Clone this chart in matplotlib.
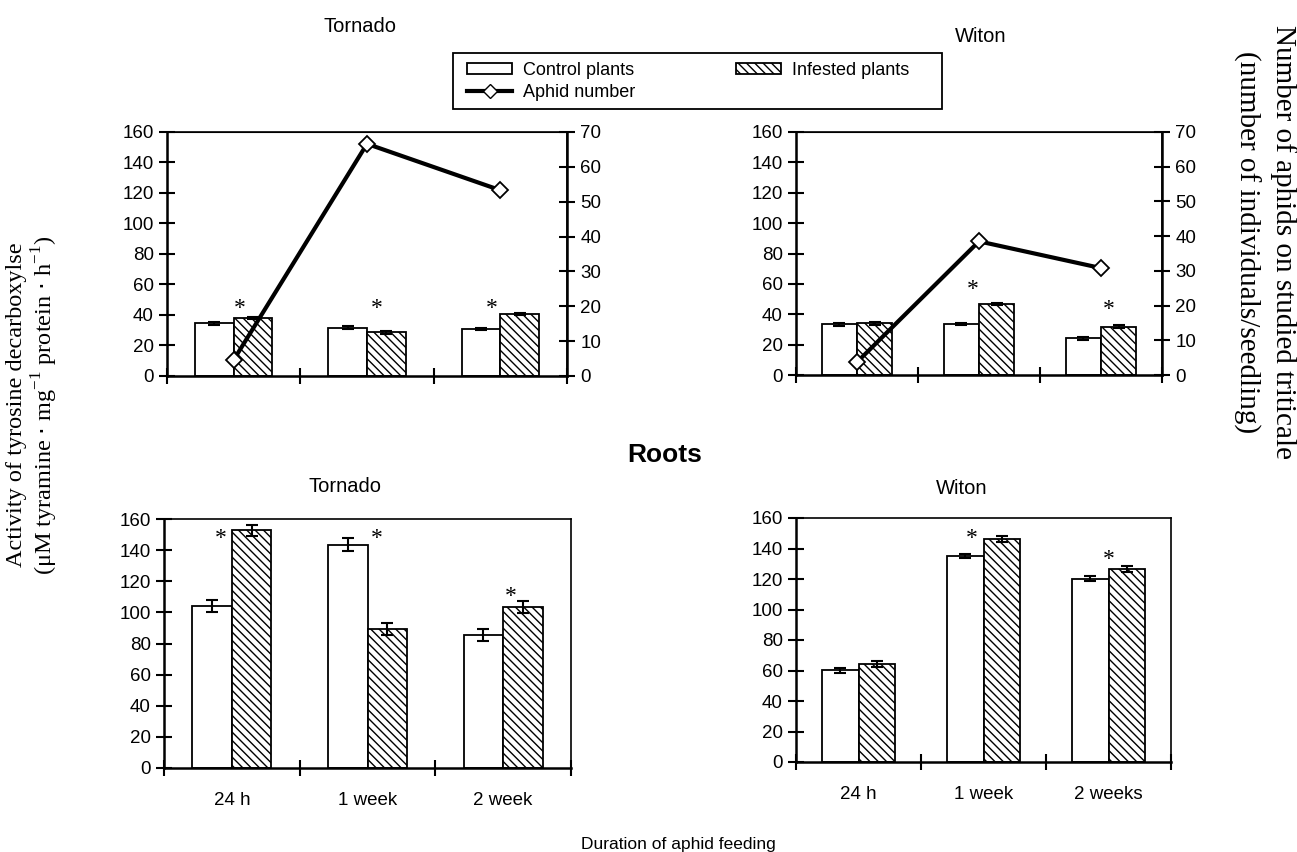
import numpy as np
import matplotlib.pyplot as plt
from matplotlib.patches import Patch, Rectangle
from matplotlib.lines import Line2D

plt.rcParams['font.family'] = ['Liberation Sans', 'DejaVu Sans']

# leaves (top row) and roots (bottom row), groups = duration of feeding
tornado_ctrl = [34.5, 31.7, 30.8]
tornado_inf = [38.2, 28.6, 40.6]
tornado_ctrl_err = [0.8, 0.8, 0.8]
tornado_inf_err = [0.8, 0.8, 0.8]
tornado_aphids = [4.6, 66.6, 53.3]

witon_ctrl = [33.3, 33.5, 24.1]
witon_inf = [34.0, 46.7, 31.8]
witon_ctrl_err = [0.8, 0.8, 0.8]
witon_inf_err = [0.8, 0.8, 0.8]
witon_aphids = [3.7, 38.5, 30.8]

tornado_root_ctrl = [104.2, 143.5, 85.6]
tornado_root_inf = [152.7, 89.2, 103.3]
tornado_root_ctrl_err = [4.0, 4.0, 3.9]
tornado_root_inf_err = [3.6, 3.7, 3.7]

witon_root_ctrl = [60.1, 135.1, 120.2]
witon_root_inf = [64.3, 146.2, 126.3]
witon_root_ctrl_err = [1.7, 1.6, 1.5]
witon_root_inf_err = [1.7, 1.9, 1.9]

labels_tornado = ['24 h', '1 week', '2 week']
labels_witon = ['24 h', '1 week', '2 weeks']

# significance marks: (group, offset, height)
stars_tl = [(0, 0.047, 44.3), (1, 0.072, 44.3), (2, -0.062, 44.3)]
stars_tr = [(1, -0.055, 56.3), (2, 0.062, 43.2)]
stars_bl = [(0, -0.08, 147.6), (1, 0.066, 147.6), (2, 0.054, 110.2)]
stars_br = [(1, -0.09, 146.4), (2, 0.0, 132.7)]

W, H = 1297, 852
fig = plt.figure(figsize=(W / 100, H / 100), dpi=100)


def px_axes(x0, x1, y0, y1):
    return fig.add_axes([x0 / W, 1 - y1 / H, (x1 - x0) / W, (y1 - y0) / H])


def px_text(x, y, s, **kw):
    fig.text(x / W, 1 - y / H, s, ha='center', va='center', **kw)


HATCH = '\\\\\\\\'
bw = 0.29
TICK_FS = 13.5


def bars(ax, ctrl, inf, ctrl_err, inf_err, stars, xlabels=None):
    x = np.arange(3)
    ax.bar(x - bw / 2, ctrl, bw, color='white', edgecolor='black', linewidth=1.3, zorder=2)
    ax.bar(x + bw / 2, inf, bw, color='white', edgecolor='black', hatch=HATCH,
           linewidth=1.3, zorder=2)
    ax.errorbar(x - bw / 2, ctrl, yerr=ctrl_err, fmt='none', ecolor='black',
                elinewidth=1.5, capsize=4, capthick=1.5, zorder=3)
    ax.errorbar(x + bw / 2, inf, yerr=inf_err, fmt='none', ecolor='black',
                elinewidth=1.5, capsize=4, capthick=1.5, zorder=3)
    for g, off, h in stars:
        ax.text(g + off, h, '*', fontsize=17, family='Liberation Serif',
                ha='center', va='center', zorder=4)
    ax.set_xlim(-0.5, 2.5)
    ax.set_ylim(0, 160)
    ax.set_yticks(range(0, 161, 20))
    ax.set_xticks([-0.5, 0.5, 1.5, 2.5])
    ax.set_xticklabels([])
    ax.tick_params(axis='both', direction='inout', length=11, width=1.5,
                   labelsize=TICK_FS, pad=4)
    if xlabels:
        ax.set_xticks([0, 1, 2], minor=True)
        ax.set_xticklabels(xlabels, minor=True)
        ax.tick_params(axis='x', which='minor', length=0, labelsize=TICK_FS, pad=17)
    for s in ['left', 'bottom']:
        ax.spines[s].set_linewidth(1.8)
    for s in ['top', 'right']:
        ax.spines[s].set_linewidth(1.2)


def aphid_line(ax, values):
    ax2 = ax.twinx()
    ax2.plot(np.arange(3), values, color='black', linewidth=3, marker='D',
             markersize=8, markerfacecolor='white', markeredgecolor='black',
             markeredgewidth=1.3, zorder=5)
    ax2.set_ylim(0, 70)
    ax2.set_yticks(range(0, 71, 10))
    ax2.tick_params(axis='y', direction='inout', length=11, width=1.5,
                    labelsize=TICK_FS, pad=4)
    ax2.spines['right'].set_linewidth(1.8)
    return ax2


ax_tl = px_axes(167, 567, 132, 376)
bars(ax_tl, tornado_ctrl, tornado_inf, tornado_ctrl_err, tornado_inf_err, stars_tl)
aphid_line(ax_tl, tornado_aphids)

ax_tr = px_axes(796, 1162, 132, 375)
bars(ax_tr, witon_ctrl, witon_inf, witon_ctrl_err, witon_inf_err, stars_tr)
aphid_line(ax_tr, witon_aphids)

ax_bl = px_axes(164, 571, 519, 768)
bars(ax_bl, tornado_root_ctrl, tornado_root_inf, tornado_root_ctrl_err,
     tornado_root_inf_err, stars_bl, labels_tornado)

ax_br = px_axes(796, 1171, 518, 762)
bars(ax_br, witon_root_ctrl, witon_root_inf, witon_root_ctrl_err,
     witon_root_inf_err, stars_br, labels_witon)

px_text(360, 27, 'Tornado', fontsize=14.5)
px_text(981, 36, 'Witon', fontsize=14.5)
px_text(345, 486, 'Tornado', fontsize=14.5)
px_text(962, 488, 'Witon', fontsize=14.5)
px_text(665, 455, 'Roots', fontsize=19, weight='bold')
px_text(678, 845, 'Duration of aphid feeding', fontsize=12.5)

px_text(17, 405, 'Activity of tyrosine decarboxylse',
        family='Liberation Serif', fontsize=17.5, rotation=90)
px_text(45, 405,
        r'($\mathregular{\mu}$M tyramine $\cdot$ mg$^{\mathregular{-1}}$ protein $\cdot$ h$^{\mathregular{-1}}$)',
        family='Liberation Serif', fontsize=17.5, rotation=90)
px_text(1283, 242, 'Number of aphids on studied triticale',
        family='Liberation Serif', fontsize=21, rotation=-90)
px_text(1247, 242, '(number of individuals/seedling)',
        family='Liberation Serif', fontsize=21, rotation=-90)

# legend
handles = [Patch(facecolor='white', edgecolor='black', linewidth=1.3),
           Line2D([], [], color='black', linewidth=3, marker='D', markersize=7,
                  markerfacecolor='white', markeredgecolor='black'),
           Patch(facecolor='white', edgecolor='black', hatch=HATCH, linewidth=1.3)]
names = ['Control plants', 'Aphid number', 'Infested plants']
fig.legend(handles, names, ncol=2, loc='upper left',
           bbox_to_anchor=(467 / W, 1 - 62 / H), frameon=False, fontsize=13,
           borderpad=0, borderaxespad=0, handlelength=2.5, handleheight=0.55,
           handletextpad=0.6, labelspacing=0.25, columnspacing=5.6)
fig.patches.append(Rectangle((453 / W, 1 - 109 / H), 489 / W, 56 / H,
                             transform=fig.transFigure, facecolor='none',
                             edgecolor='black', linewidth=1.3))

fig.savefig('out.png', dpi=100)
